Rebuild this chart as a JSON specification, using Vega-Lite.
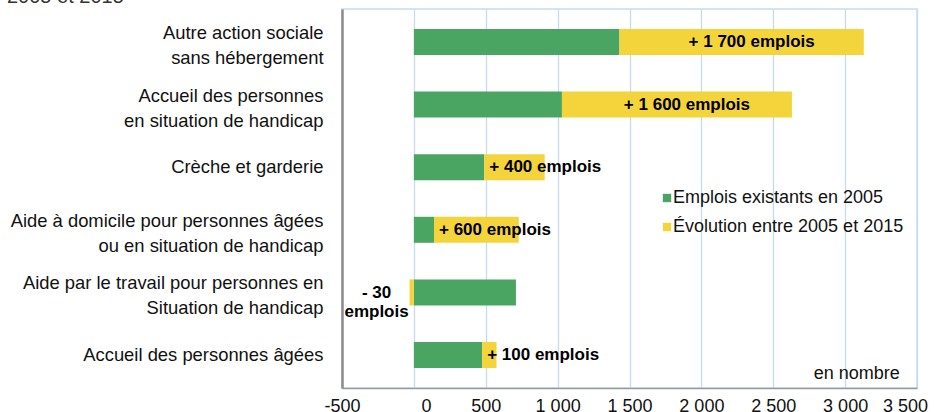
{
  "$schema": "https://vega.github.io/schema/vega-lite/v6.json",
  "width": 575,
  "height": 379,
  "autosize": {"type": "none"},
  "padding": {"left": 342, "top": 9, "right": 20, "bottom": 24},
  "background": "white",
  "config": {
    "font": "Liberation Sans",
    "view": {"stroke": "#c5dcee", "strokeWidth": 1.5}
  },
  "title": {
    "text": "2005 et 2015",
    "anchor": "start",
    "frame": "group",
    "orient": "top",
    "fontSize": 20,
    "fontWeight": "normal",
    "color": "#333333",
    "offset": 2,
    "dx": -335
  },
  "data": {
    "values": [
      {"cat": "Autre action sociale|sans hébergement", "existing": 1430, "evolution": 1700, "label": "+ 1 700 emplois"},
      {"cat": "Accueil des personnes|en situation de handicap", "existing": 1030, "evolution": 1600, "label": "+ 1 600 emplois"},
      {"cat": "Crèche et garderie", "existing": 490, "evolution": 420, "label": "+ 400 emplois"},
      {"cat": "Aide à domicile pour personnes âgées|ou en situation de handicap", "existing": 140, "evolution": 590, "label": "+ 600 emplois"},
      {"cat": "Aide par le travail pour personnes en|Situation de handicap", "existing": 710, "evolution": -30, "label": "- 30|emplois"},
      {"cat": "Accueil des personnes âgées", "existing": 475, "evolution": 100, "label": "+ 100 emplois"}
    ]
  },
  "encoding": {
    "y": {
      "field": "cat",
      "type": "nominal",
      "sort": null,
      "scale": {"paddingInner": 0.585, "paddingOuter": 0.32},
      "axis": {
        "title": null,
        "labelExpr": "split(datum.label, '|')",
        "labelFontSize": 18.4,
        "labelLineHeight": 25,
        "labelColor": "#111111",
        "labelPadding": 19,
        "labelLimit": 400,
        "labelOffset": {"condition": {"test": "indexof(datum.value, '|') >= 0", "value": -9}, "value": 0},
        "ticks": false,
        "domain": true,
        "domainColor": "#8c8c8c",
        "domainWidth": 2.5,
        "grid": false
      }
    }
  },
  "layer": [
    {
      "transform": [
        {"fold": ["existing", "evolution"], "as": ["series", "value"]}
      ],
      "mark": {"type": "bar"},
      "encoding": {
        "x": {
          "field": "value",
          "type": "quantitative",
          "stack": "zero",
          "scale": {"domain": [-500, 3500], "nice": false, "zero": false},
          "axis": {
            "title": null,
            "values": [-500, 0, 500, 1000, 1500, 2000, 2500, 3000, 3500],
            "labelExpr": "replace(replace(format(datum.value, ','), ',', ' '), '−', '-')",
            "labelFontSize": 18,
            "labelColor": "#111111",
            "labelPadding": 9,
            "labelFlush": false,
            "labelOverlap": false,
            "labelOffset": {"condition": [{"test": "datum.value == 0", "value": 12}, {"test": "datum.value == 3500", "value": -12}], "value": 0},
            "ticks": false,
            "grid": true,
            "gridColor": "#c5dcee",
            "gridWidth": 1.3,
            "domainColor": "#9a9a9a",
            "domainWidth": 1.5
          }
        },
        "color": {
          "field": "series",
          "type": "nominal",
          "scale": {"domain": ["existing", "evolution"], "range": ["#4aa563", "#f4d43b"]},
          "legend": {
            "title": null,
            "orient": "none",
            "legendX": 316,
            "legendY": 180,
            "symbolType": "square",
            "symbolSize": 70,
            "symbolStrokeWidth": 0,
            "labelFontSize": 18,
            "labelColor": "#111111",
            "labelOffset": -3,
            "labelLimit": 400,
            "rowPadding": 11,
            "labelExpr": "datum.label == 'existing' ? 'Emplois existants en 2005' : 'Évolution entre 2005 et 2015'"
          }
        },
        "order": {"field": "series", "sort": "descending"}
      }
    },
    {
      "transform": [
        {"filter": "datum.evolution >= 1000"},
        {"calculate": "datum.existing + datum.evolution / 2", "as": "mid"}
      ],
      "mark": {"type": "text", "align": "center", "baseline": "middle", "dx": 10, "fontSize": 17, "fontWeight": "bold", "color": "#000000"},
      "encoding": {
        "x": {"field": "mid", "type": "quantitative"},
        "text": {"field": "label"}
      }
    },
    {
      "transform": [
        {"filter": "datum.evolution > 0 && datum.evolution < 1000"}
      ],
      "mark": {"type": "text", "align": "left", "baseline": "middle", "dx": 5, "fontSize": 17, "fontWeight": "bold", "color": "#000000"},
      "encoding": {
        "x": {"field": "existing", "type": "quantitative"},
        "text": {"field": "label"}
      }
    },
    {
      "transform": [
        {"filter": "datum.evolution < 0"}
      ],
      "mark": {"type": "text", "align": "center", "baseline": "middle", "dx": -33, "dy": 1, "lineBreak": "|", "lineHeight": 19, "fontSize": 17, "fontWeight": "bold", "color": "#000000"},
      "encoding": {
        "x": {"field": "evolution", "type": "quantitative"},
        "text": {"field": "label"}
      }
    },
    {
      "data": {"values": [{"note": "en nombre", "at": 3380, "row": "Accueil des personnes âgées"}]},
      "mark": {"type": "text", "align": "right", "baseline": "middle", "dy": 19, "fontSize": 18, "color": "#111111"},
      "encoding": {
        "x": {"field": "at", "type": "quantitative"},
        "y": {"field": "row", "type": "nominal", "sort": null},
        "text": {"field": "note"}
      }
    }
  ]
}
